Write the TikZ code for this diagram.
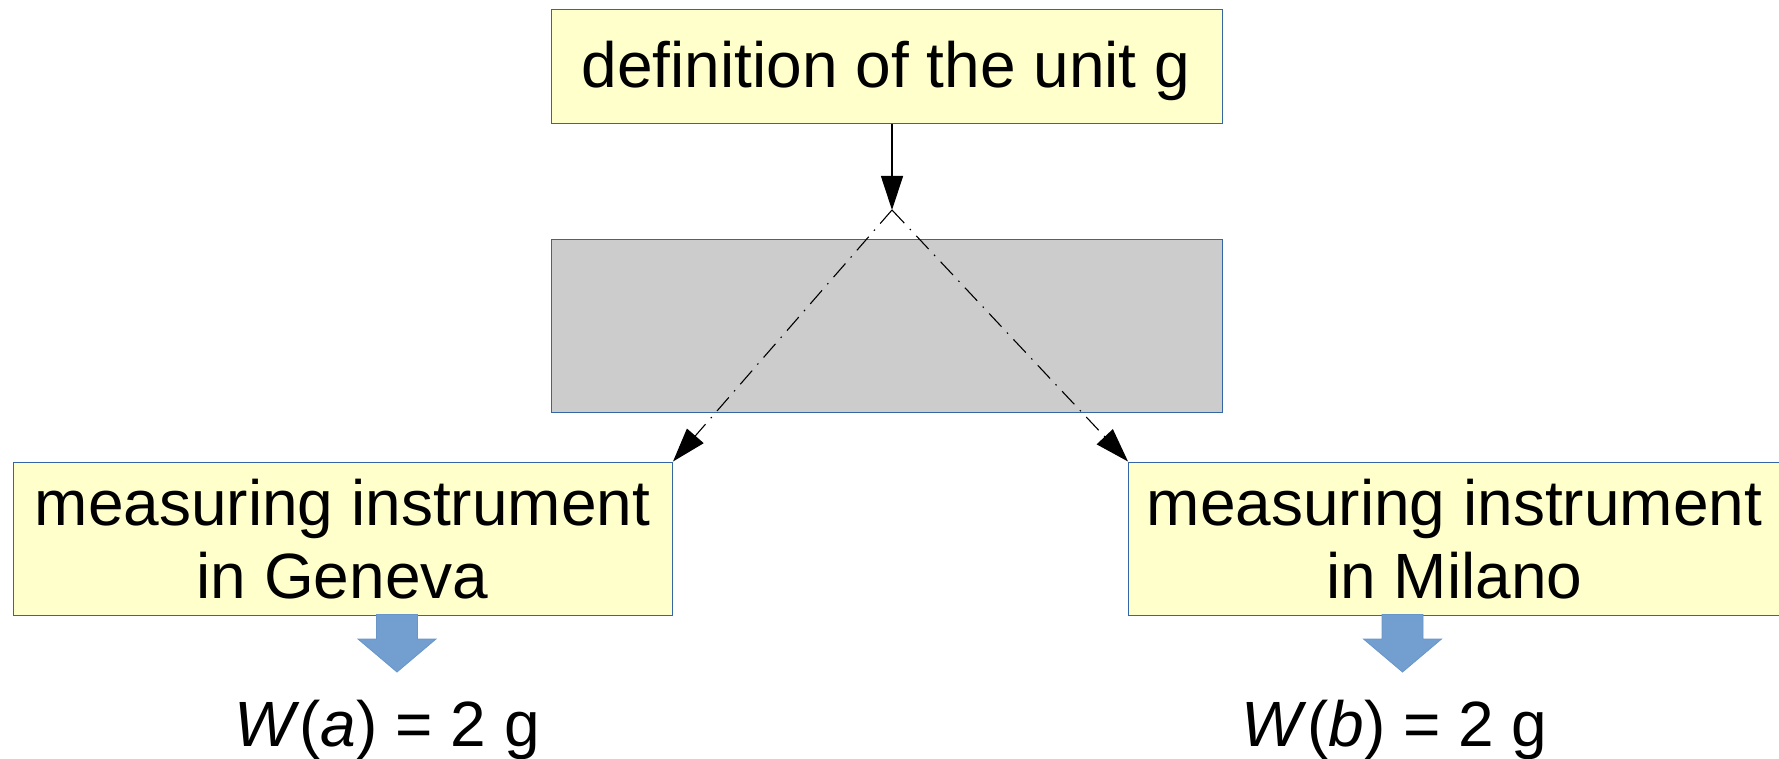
\documentclass[tikz,border=0pt]{standalone}
\usepackage{fontspec}
\setmainfont{Liberation Sans}
\usetikzlibrary{arrows.meta}
\definecolor{paleyellow}{HTML}{FFFFCC}
\definecolor{boxline}{HTML}{3465A4}
\definecolor{graybox}{HTML}{CCCCCC}
\definecolor{arrowblue}{HTML}{729FCF}
\begin{document}
\begin{tikzpicture}[x=1pt,y=-1pt,
  ybox/.style={draw=boxline, line width=1pt, fill=paleyellow, inner sep=0pt, anchor=north west},
  gbox/.style={draw=boxline, line width=1pt, fill=graybox, inner sep=0pt, anchor=north west},
  txt/.style={inner sep=0pt, anchor=base, font=\fontsize{64}{74}\selectfont},
  conn/.style={line width=1.2pt, -{Triangle[length=34pt,width=22pt]}},
  ddconn/.style={line width=1.1pt, dash pattern=on 18pt off 8pt on 1.5pt off 8pt, -{Triangle[length=34pt,width=22pt]}},
  blockarrow/.style={fill=arrowblue, draw=arrowblue!85!boxline, line width=0.8pt, line join=miter}
]
\useasboundingbox[fill=white] (0,0) rectangle (1779,759);

% boxes
\node[ybox, minimum width=671pt, minimum height=114pt] (top) at (551,9) {};
\node[gbox, minimum width=671pt, minimum height=172.5pt] (gray) at (551,239) {};
\node[ybox, minimum width=659.5pt, minimum height=153pt] (lbox) at (12.5,461.5) {};
\node[ybox, minimum width=653pt, minimum height=153pt] (rbox) at (1128,461.5) {};

% texts
\node[txt] (ttop) at (886,87.5) {definition of the unit g};
\node[txt] (l1) at (342.5,525.5) {measuring instrument};
\node[txt] (l2) at (342.5,598.5) {in Geneva};
\node[txt] (r1) at (1454.5,525.5) {measuring instrument};
\node[txt] (r2) at (1454.5,598.5) {in Milano};
\node[txt] (wa) at (387,746) {\textit{W}(\textit{a}) = 2 g};
\node[txt] (wb) at (1394.5,746) {\textit{W}(\textit{b}) = 2 g};

% connectors
\coordinate (apex) at (892,210);
\draw[conn] (apex |- top.south) -- (apex);
\draw[ddconn] (apex) -- (lbox.north east);
\draw[ddconn] (apex) -- (rbox.north west);

% block arrows
\coordinate (la) at (397,614.5);
\coordinate (ra) at (1402.5,614.5);
\foreach \c in {la,ra}{
  \draw[blockarrow, shift={(\c)}] (-20.5,0) -- (20.5,0) -- (20.5,24.5) -- (39,24.5) -- (0,57.5) -- (-39,24.5) -- (-20.5,24.5) -- cycle;
}
\end{tikzpicture}
\end{document}
